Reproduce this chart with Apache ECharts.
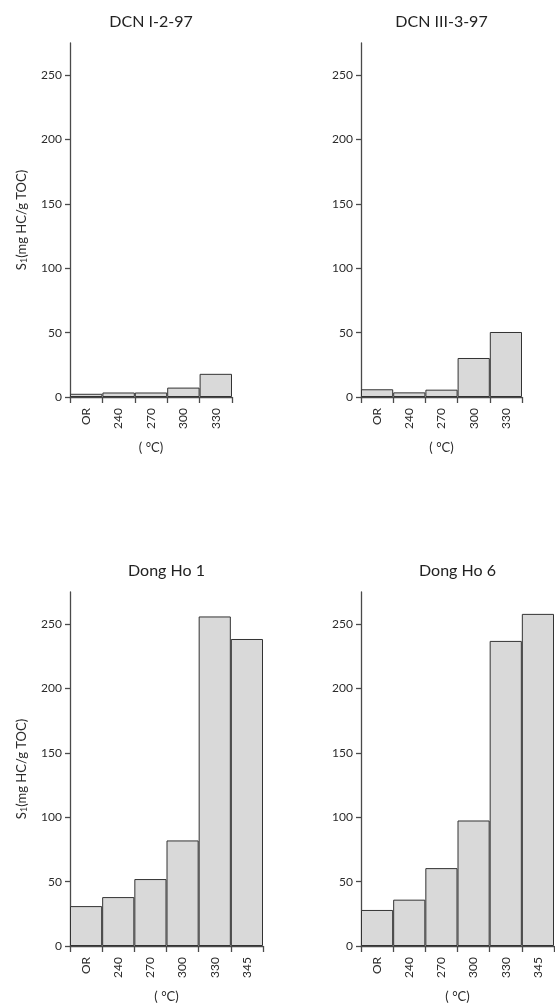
<!DOCTYPE html>
<html>
<head>
<meta charset="utf-8">
<script src="https://cdn.jsdelivr.net/npm/echarts@6/dist/echarts.min.js"></script>
<style>
html,body{margin:0;padding:0;background:#fff;}
#c{width:555px;height:1004px;}
</style>
</head>
<body>
<div id="c"></div>
<script>
// ---- data ----
var titles = ['DCN I-2-97', 'DCN III-3-97', 'Dong Ho 1', 'Dong Ho 6'];
var catsShort = ['OR', '240', '270', '300', '330'];
var catsLong = ['OR', '240', '270', '300', '330', '345'];
var dcn1 = [2.5, 3.5, 3.5, 7.3, 18];
var dcn3 = [6, 3.6, 5.7, 30.3, 50.5];
var dongHo1 = [31, 38, 52, 82, 256, 238.5];
var dongHo6 = [28, 36, 60.5, 97.5, 237, 258];
var yTicks = [0, 50, 100, 150, 200, 250];

var FONT = 'Lato, "Noto Sans", sans-serif';
var TXT = '#2b2b2b';
var AX = '#4a4a4a';

var grids = [
  {left: 70, top: 43, width: 162, height: 354},
  {left: 361, top: 43, width: 161, height: 354},
  {left: 70, top: 592, width: 193, height: 354},
  {left: 361, top: 592, width: 193, height: 354}
];
var cats = [catsShort, catsShort, catsLong, catsLong];
var vals = [dcn1, dcn3, dongHo1, dongHo6];

var xAxes = [], yAxes = [], series = [], graphics = [];
for (var i = 0; i < 4; i++) {
  xAxes.push({
    type: 'category', gridIndex: i, data: cats[i],
    boundaryGap: true,
    axisLine: {show: true, lineStyle: {color: AX, width: 1.3}},
    axisTick: {show: true, length: 6, lineStyle: {color: AX, width: 1.3}},
    axisLabel: {rotate: 90, margin: 11, fontSize: 12, color: TXT, fontFamily: FONT, interval: 0},
    name: '( \u00B0C)', nameLocation: 'middle', nameGap: 44,
    nameTextStyle: {fontSize: 13, color: TXT, fontFamily: FONT}
  });
  var ya = {
    type: 'value', gridIndex: i, min: 0, max: 275, interval: 50,
    axisLine: {show: true, lineStyle: {color: AX, width: 1.3}},
    axisTick: {show: true, length: 5, customValues: yTicks, lineStyle: {color: AX, width: 1.3}},
    axisLabel: {fontSize: 12, color: TXT, fontFamily: FONT, margin: 8, customValues: yTicks},
    splitLine: {show: false}
  };
  if (i === 0 || i === 2) {
    ya.name = '{s|S}{sub|1}{s|(mg HC/g TOC)}';
    ya.nameLocation = 'middle';
    ya.nameGap = 41;
    ya.nameTextStyle = {
      fontFamily: FONT, color: TXT,
      rich: {
        s: {fontSize: 13, fontFamily: FONT, color: TXT},
        sub: {fontSize: 9, fontFamily: FONT, color: TXT, verticalAlign: 'bottom', padding: [5, 0, 0, 0]}
      }
    };
  }
  yAxes.push(ya);
  series.push({
    type: 'bar', xAxisIndex: i, yAxisIndex: i, data: vals[i],
    barCategoryGap: '0%',
    itemStyle: {color: '#d9d9d9', borderColor: '#333', borderWidth: 1},
    silent: true
  });
  graphics.push({
    type: 'text',
    x: grids[i].left + grids[i].width / 2,
    y: grids[i].top - 21,
    style: {text: titles[i], align: 'center', verticalAlign: 'middle',
      font: '16px ' + FONT, fill: '#222'}
  });
}

var chart = echarts.init(document.getElementById('c'), null, {renderer: 'canvas'});
chart.setOption({
  backgroundColor: '#fff',
  animation: false,
  grid: grids,
  xAxis: xAxes,
  yAxis: yAxes,
  series: series,
  graphic: graphics
});
</script>
</body>
</html>
